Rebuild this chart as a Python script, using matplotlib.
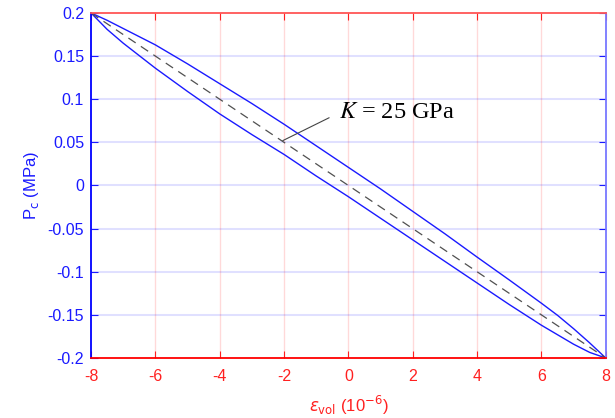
import matplotlib
matplotlib.use('Agg')
import matplotlib.pyplot as plt
import numpy as np

plt.rcParams['font.family'] = ['Liberation Sans', 'DejaVu Sans']
plt.rcParams['axes.unicode_minus'] = False

# strain points (1e-6) where the loop branches were read
eps = [-8, -7.5, -7, -6.5, -6, -5, -4, -3, -2, -1, 0, 1, 2, 3, 4, 5, 6, 6.5, 7, 7.5, 8]
# upper branch of the loop (MPa)
p_upper = [0.200, 0.1915, 0.182, 0.1725, 0.163, 0.141, 0.118, 0.095, 0.071, 0.046, 0.021,
           -0.004, -0.030, -0.056, -0.083, -0.1095, -0.1365, -0.1505, -0.166, -0.1825, -0.200]
# lower branch of the loop (MPa)
p_lower = [0.200, 0.181, 0.165, 0.1505, 0.136, 0.109, 0.083, 0.059, 0.036, 0.011, -0.013,
           -0.038, -0.063, -0.088, -0.113, -0.138, -0.162, -0.173, -0.184, -0.1935, -0.200]
# secant line, K = 25 GPa
sec_eps = [-8, 8]
sec_p = [0.2, -0.2]

xticks = [-8, -6, -4, -2, 0, 2, 4, 6, 8]
yticks = [-0.2, -0.15, -0.1, -0.05, 0, 0.05, 0.1, 0.15, 0.2]
ylabels = ['-0.2', '-0.15', '-0.1', '-0.05', '0', '0.05', '0.1', '0.15', '0.2']

fig = plt.figure(figsize=(6.15, 4.18), dpi=100)
ax = fig.add_axes([0.148, 0.1435, 0.837, 0.8255])

ax.plot(eps, p_upper, color='#1a1aff', lw=1.0)
ax.plot(eps, p_lower, color='#1a1aff', lw=1.0)
ax.plot(sec_eps, sec_p, color='#505050', lw=0.9, ls=(0, (7, 5)))

ax.set_xlim(-8, 8)
ax.set_ylim(-0.2, 0.2)
ax.set_xticks(xticks)
ax.set_xticklabels([str(t) for t in xticks])
ax.set_yticks(yticks)
ax.set_yticklabels(ylabels)

for x in xticks[1:-1]:
    ax.axvline(x, color='red', alpha=0.15, lw=1, zorder=0)
for y in yticks[1:-1]:
    ax.axhline(y, color='blue', alpha=0.12, lw=1.5, zorder=0)

ax.spines['bottom'].set_color('red')
ax.spines['top'].set_color('#ff5555')
ax.spines['left'].set_color('blue')
ax.spines['right'].set_color('#7777ff')
for s in ax.spines.values():
    s.set_linewidth(1.3)

ax.tick_params(axis='x', colors='#ff2020', direction='in', top=True, length=5,
               labelsize=11.5, pad=8)
ax.tick_params(axis='y', colors='#1a1aff', direction='in', right=True, length=5,
               labelsize=11.5, pad=5)

ax.set_xlabel(r'$\epsilon_{\rm vol}$ (10$^{-6}$)', color='#ff2020', fontsize=12,
              labelpad=7)
ax.set_ylabel(r'P$_{\rm c}$ (MPa)', color='#1a1aff', fontsize=12, labelpad=5)

ax.annotate('$K$ = 25 GPa', xy=(-2.04, 0.052), xytext=(-0.28, 0.0844),
            fontsize=17.5, family='Liberation Serif', math_fontfamily='stix',
            va='center', ha='left',
            arrowprops=dict(arrowstyle='-', color='#444444', lw=0.8,
                            relpos=(0, 0.5), shrinkA=6, shrinkB=0))

fig.savefig('out.png', dpi=100)
